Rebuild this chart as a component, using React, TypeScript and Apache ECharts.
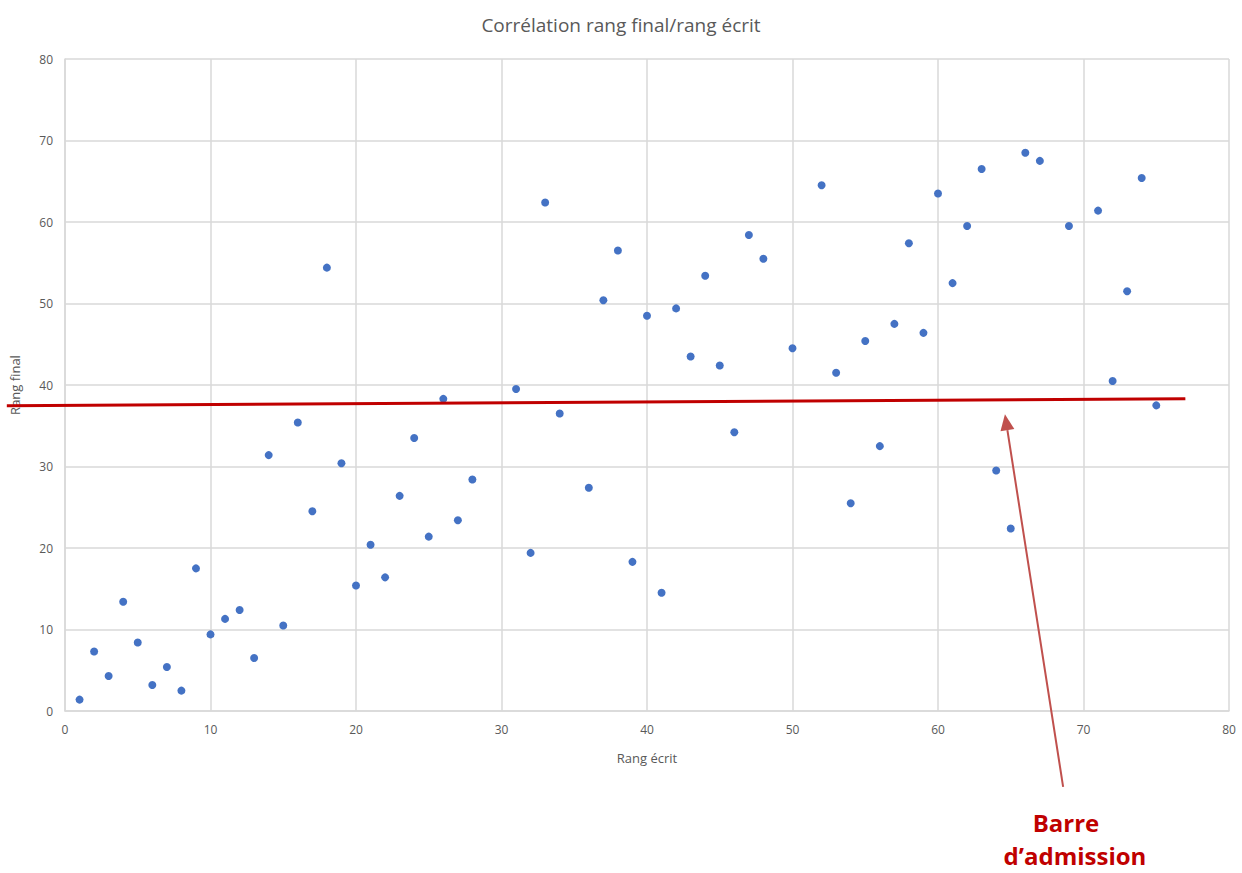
import React, { useEffect, useRef } from "react";
import * as echarts from "echarts";

const chartTitle = "Corrélation rang final/rang écrit";
const xAxisName = "Rang écrit";
const yAxisName = "Rang final";
const annotationLines = ["Barre", "d’admission"];

const writtenRank = [
  1, 2, 3, 4, 5, 6, 7, 8, 9, 10, 11, 12, 13, 14, 15, 16, 17, 18, 19, 20,
  21, 22, 23, 24, 25, 26, 27, 28, 31, 32, 33, 34, 36, 37, 38, 39, 40, 41, 42,
  43, 44, 45, 46, 47, 48, 50, 52, 53, 54, 55, 56, 57, 58, 59, 60, 61, 62, 63,
  64, 65, 66, 67, 69, 71, 72, 73, 74, 75,
];
const finalRank = [
  1.4, 7.3, 4.3, 13.4, 8.4, 3.2, 5.4, 2.5, 17.5, 9.4, 11.3, 12.4, 6.5, 31.4,
  10.5, 35.4, 24.5, 54.4, 30.4, 15.4, 20.4, 16.4, 26.4, 33.5, 21.4, 38.3, 23.4,
  28.4, 39.5, 19.4, 62.4, 36.5, 27.4, 50.4, 56.5, 18.3, 48.5, 14.5, 49.4, 43.5,
  53.4, 42.4, 34.2, 58.4, 55.5, 44.5, 64.5, 41.5, 25.5, 45.4, 32.5, 47.5, 57.4,
  46.4, 63.5, 52.5, 59.5, 66.5, 29.5, 22.4, 68.5, 67.5, 59.5, 61.4, 40.5, 51.5,
  65.4, 37.5,
];

// admission bar (drawn line) end points in data units
const barStart = [-4, 37.45];
const barEnd = [77, 38.3];
// arrow: tail and tip in data units
const arrowTail = [68.6, -9.3];
const arrowTip = [64.6, 36.4];

const App: React.FC = () => {
  const ref = useRef<HTMLDivElement>(null);

  useEffect(() => {
    document.body.style.margin = "0";
    if (!ref.current) return;
    const chart = echarts.init(ref.current, undefined, { renderer: "svg" });
    const grey = "#595959";
    const gridGrey = "#d9d9d9";
    chart.setOption({
      animation: false,
      backgroundColor: "#ffffff",
      title: {
        text: chartTitle,
        left: "center",
        top: 10,
        textStyle: {
          color: grey,
          fontSize: 19,
          fontWeight: "normal",
          fontFamily: "Open Sans",
        },
      },
      grid: { left: 63, right: 13, top: 59, bottom: 162 },
      xAxis: {
        type: "value",
        min: 0,
        max: 80,
        interval: 10,
        name: xAxisName,
        nameLocation: "middle",
        nameGap: 40,
        nameTextStyle: { color: grey, fontSize: 13, fontFamily: "Open Sans" },
        axisLine: { show: true, lineStyle: { color: gridGrey, width: 1.5 } },
        axisTick: { show: false },
        axisLabel: { color: grey, fontSize: 12, margin: 12, fontFamily: "Open Sans" },
        splitLine: { show: true, lineStyle: { color: gridGrey, width: 1.5 } },
      },
      yAxis: {
        type: "value",
        min: 0,
        max: 80,
        interval: 10,
        name: yAxisName,
        nameLocation: "middle",
        nameGap: 44,
        nameTextStyle: { color: grey, fontSize: 13, fontFamily: "Open Sans" },
        axisLine: { show: true, lineStyle: { color: gridGrey, width: 1.5 } },
        axisTick: { show: false },
        axisLabel: { color: grey, fontSize: 12, margin: 12, fontFamily: "Open Sans" },
        splitLine: { show: true, lineStyle: { color: gridGrey, width: 1.5 } },
      },
      series: [
        {
          type: "scatter",
          symbol: "circle",
          symbolSize: 8,
          itemStyle: { color: "#4472c4", opacity: 1 },
          data: writtenRank.map((x, i) => [x, finalRank[i]]),
        },
      ],
    });

    const p = (d: number[]) => chart.convertToPixel({ gridIndex: 0 }, d) as number[];
    const b1 = p(barStart);
    const b2 = p(barEnd);
    const t0 = p(arrowTail);
    const t1 = p(arrowTip);
    const dx = t1[0] - t0[0];
    const dy = t1[1] - t0[1];
    const len = Math.sqrt(dx * dx + dy * dy);
    const ux = dx / len;
    const uy = dy / len;
    const headLen = 16;
    const headW = 7;
    const base = [t1[0] - ux * headLen, t1[1] - uy * headLen];
    const head = [
      [t1[0], t1[1]],
      [base[0] - uy * headW, base[1] + ux * headW],
      [base[0] + uy * headW, base[1] - ux * headW],
    ];

    const textStyle = {
      fill: "#c00000",
      font: "bold 24px 'Open Sans'",
      align: "center",
      verticalAlign: "middle",
      lineHeight: 26,
    };

    chart.setOption({
      graphic: [
        {
          type: "line",
          shape: { x1: b1[0], y1: b1[1], x2: b2[0], y2: b2[1] },
          style: { stroke: "#c00000", lineWidth: 3 },
          z: 10,
        },
        {
          type: "line",
          shape: { x1: t0[0], y1: t0[1], x2: base[0], y2: base[1] },
          style: { stroke: "#c0504d", lineWidth: 2 },
          z: 10,
        },
        {
          type: "polygon",
          shape: { points: head },
          style: { fill: "#c0504d" },
          z: 10,
        },
        {
          type: "text",
          x: 1066,
          y: 822,
          style: { ...textStyle, text: annotationLines[0] },
          z: 10,
        },
        {
          type: "text",
          x: 1075,
          y: 855,
          style: { ...textStyle, text: annotationLines[1] },
          z: 10,
        },
      ],
    });

    return () => chart.dispose();
  }, []);

  return <div ref={ref} style={{ width: 1242, height: 873 }} />;
};

export default App;
